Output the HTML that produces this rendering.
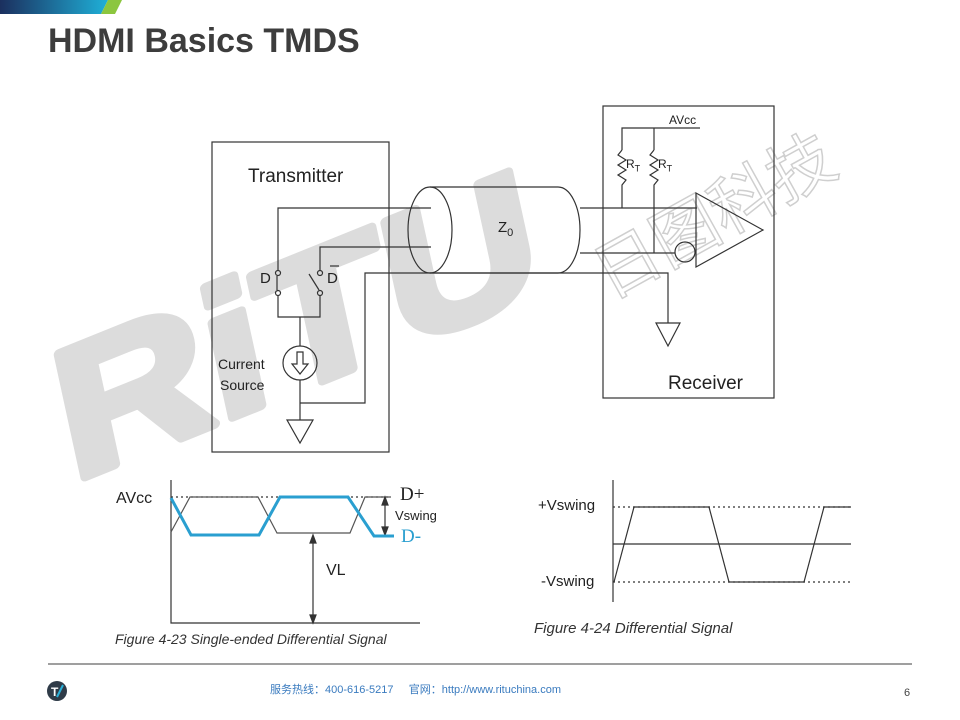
<!DOCTYPE html>
<html><head><meta charset="utf-8"><style>
html,body{margin:0;padding:0;background:#fff;}
body{width:960px;height:720px;position:relative;overflow:hidden;font-family:"Liberation Sans",sans-serif;}
.t{position:absolute;white-space:nowrap;}
</style></head><body>
<svg width="960" height="720" style="position:absolute;left:0;top:0">
<defs><linearGradient id="g" x1="0" x2="1"><stop offset="0" stop-color="#1b2f5e"/><stop offset="1" stop-color="#1fb0d8"/></linearGradient></defs>
<polygon points="0,0 108,0 101,14 0,14" fill="url(#g)"/>
<polygon points="108,0 122,0 115,14 101,14" fill="#8cc63f"/>
<!-- watermark -->
<text x="0" y="0" transform="translate(72,482) rotate(-22) scale(1.22,1) skewX(-8)" font-family="Liberation Sans" font-weight="bold" font-size="180" fill="#dcdcdc" stroke="#dcdcdc" stroke-width="9" stroke-linejoin="round">RiTU</text>
<text x="0" y="0" transform="translate(610,300) rotate(-29)" font-family="Noto Sans CJK SC,sans-serif" font-size="66" fill="none" stroke="#cfcfcf" stroke-width="1.5">日图科技</text>
<g stroke="#333" stroke-width="1.2" fill="none">
<rect x="212" y="142" width="177" height="310"/>
<rect x="603" y="106" width="171" height="292"/>
<path d="M430,187 L558,187 A22,43 0 0 1 558,273 L430,273"/>
<ellipse cx="430" cy="230" rx="22" ry="43"/>
<polyline points="278,270 278,208 431,208"/>
<polyline points="320,270 320,247 431,247"/>
<polyline points="300,403 365,403 365,273 668,273 668,323"/>
<polygon points="656,323 680,323 668,346"/>
<line x1="580" y1="208" x2="697" y2="208"/>
<line x1="580" y1="253" x2="675" y2="253"/>
<circle cx="685" cy="252" r="10"/>
<polygon points="696,193 763,230 696,267"/>
<polyline points="622,150 622,128 700,128"/>
<line x1="654" y1="128" x2="654" y2="150"/>
<polyline points="622,150 618,155 626,160 618,165 626,170 618,175 626,180 622,185 622,208"/>
<polyline points="654,150 650,155 658,160 650,165 658,170 650,175 658,180 654,185 654,253"/>
<circle cx="278" cy="273" r="2.5"/><circle cx="278" cy="293" r="2.5"/>
<line x1="277" y1="276" x2="277" y2="290"/>
<circle cx="320" cy="273" r="2.5"/><circle cx="320" cy="293" r="2.5"/>
<line x1="309" y1="274" x2="319" y2="290"/>
<polyline points="278,296 278,317 320,317 320,296"/>
<line x1="300" y1="317" x2="300" y2="346"/>
<circle cx="300" cy="363" r="17"/>
<path d="M297,352 L303,352 L303,364 L308,364 L300,374 L292,364 L297,364 Z"/>
<line x1="300" y1="380" x2="300" y2="420"/>
<polygon points="287,420 313,420 300,443"/>
<line x1="330" y1="266" x2="339" y2="266"/>
<polyline points="171,480 171,623 420,623"/>
<line x1="171" y1="497" x2="391" y2="497" stroke-dasharray="2,3"/>
<polyline points="171,532 190,497 258,497 277,533 350,533 365,497 391,497" stroke="#555"/>
<line x1="385" y1="500" x2="385" y2="532"/>
<polygon points="385,497 382,505 388,505" fill="#333"/>
<polygon points="385,535 382,527 388,527" fill="#333"/>
<line x1="313" y1="538" x2="313" y2="620"/>
<polygon points="313,535 310,543 316,543" fill="#333"/>
<polygon points="313,623 310,615 316,615" fill="#333"/>
<line x1="613" y1="480" x2="613" y2="602"/>
<line x1="613" y1="544" x2="851" y2="544"/>
<line x1="613" y1="507" x2="851" y2="507" stroke-dasharray="2,3"/>
<line x1="613" y1="582" x2="851" y2="582" stroke-dasharray="2,3"/>
<polyline points="614,582 634,507 709,507 729,582 804,582 824,507 851,507"/>
<line x1="48" y1="664" x2="912" y2="664" stroke="#666"/>
</g>
<polyline points="171,498 191,535 259,535 280,497 348,497 374,536 394,536" fill="none" stroke="#2a9fd0" stroke-width="3"/>
<circle cx="57" cy="691" r="10" fill="#2f3b48"/>
<text x="51" y="696" font-size="12" font-weight="bold" fill="#fff">T</text>
<line x1="57" y1="697" x2="63" y2="685" stroke="#2ab0d8" stroke-width="2"/>
</svg>
<div class="t" style="left:48px;top:22px;font-size:34px;font-weight:bold;color:#3d3d3d">HDMI Basics TMDS</div>
<div class="t" style="left:248px;top:166px;font-size:19px;color:#222">Transmitter</div>
<div class="t" style="left:668px;top:373px;font-size:19px;color:#222">Receiver</div>
<div class="t" style="left:498px;top:219px;font-size:15px;color:#222">Z<sub style="font-size:11px">0</sub></div>
<div class="t" style="left:669px;top:113px;font-size:12px;color:#222">AVcc</div>
<div class="t" style="left:626px;top:157px;font-size:12px;color:#222">R<sub style="font-size:9px">T</sub></div>
<div class="t" style="left:658px;top:157px;font-size:12px;color:#222">R<sub style="font-size:9px">T</sub></div>
<div class="t" style="left:260px;top:270px;font-size:15px;color:#222">D</div>
<div class="t" style="left:327px;top:270px;font-size:15px;color:#222">D</div>
<div class="t" style="left:218px;top:356px;font-size:14px;color:#222">Current</div>
<div class="t" style="left:220px;top:377px;font-size:14px;color:#222">Source</div>
<div class="t" style="left:116px;top:490px;font-size:16px;color:#222">AVcc</div>
<div class="t" style="left:400px;top:484px;font-size:19px;color:#222;font-family:'Liberation Serif',serif">D+</div>
<div class="t" style="left:395px;top:508px;font-size:13px;color:#222">Vswing</div>
<div class="t" style="left:401px;top:526px;font-size:19px;color:#2a9fd0;font-family:'Liberation Serif',serif">D-</div>
<div class="t" style="left:326px;top:562px;font-size:16px;color:#222">VL</div>
<div class="t" style="left:115px;top:631px;font-size:14px;font-style:italic;color:#333">Figure 4-23 Single-ended Differential Signal</div>
<div class="t" style="left:538px;top:497px;font-size:15px;color:#222">+Vswing</div>
<div class="t" style="left:541px;top:573px;font-size:15px;color:#222">-Vswing</div>
<div class="t" style="left:534px;top:620px;font-size:15px;font-style:italic;color:#333">Figure 4-24 Differential Signal</div>
<div class="t" style="left:270px;top:681px;font-size:11px;color:#3a7bbf;font-family:'Liberation Sans','Noto Sans CJK SC',sans-serif">服务热线：400-616-5217&nbsp;&nbsp;&nbsp;&nbsp;&nbsp;官网：http://www.rituchina.com</div>
<div class="t" style="left:904px;top:687px;font-size:11px;color:#444">6</div>
</body></html>
